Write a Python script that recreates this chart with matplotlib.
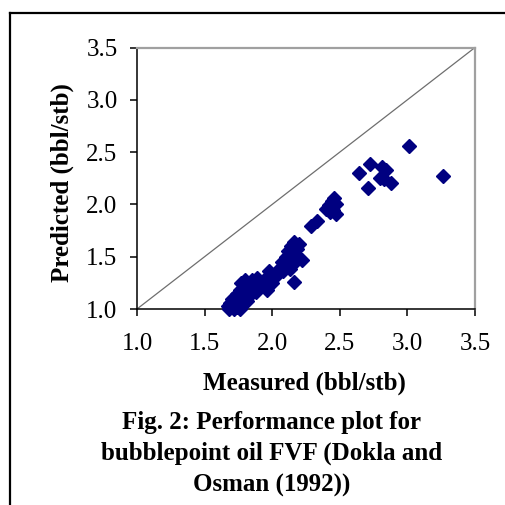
import matplotlib
matplotlib.use("Agg")
import matplotlib.pyplot as plt
from matplotlib.lines import Line2D

plt.rcParams['font.family'] = ['Liberation Serif', 'DejaVu Serif']

measured = [1.67, 1.68, 1.69, 1.70, 1.71, 1.72, 1.72, 1.73, 1.74, 1.75, 1.76, 1.77, 1.78, 1.79, 1.70,
            1.74, 1.76, 1.81,
            1.78, 1.80, 1.80, 1.82, 1.83, 1.84, 1.85, 1.86, 1.87, 1.88, 1.89, 1.90, 1.92, 1.94, 1.96, 1.98, 1.77,
            1.82, 1.85, 1.90,
            2.02, 2.00,
            2.05, 2.07, 2.08, 2.10, 2.11, 2.12, 2.13, 2.14, 2.14, 2.15, 2.16, 2.17, 2.18, 2.19, 2.20, 2.22, 2.16,
            2.09, 2.12, 2.16,
            2.29, 2.33,
            2.40, 2.42, 2.44, 2.45, 2.46, 2.47, 2.47, 2.43,
            2.64, 2.72, 2.71, 2.81, 2.84, 2.80, 2.83, 2.88, 3.01, 3.26]
predicted = [1.03, 1.00, 1.06, 1.02, 1.08, 1.00, 1.04, 1.10, 1.02, 1.06, 1.00, 1.09, 1.04, 1.12, 1.10,
             1.14, 1.18, 1.08,
             1.15, 1.22, 1.28, 1.18, 1.25, 1.14, 1.28, 1.20, 1.24, 1.16, 1.30, 1.26, 1.22, 1.28, 1.18, 1.36, 1.25,
             1.22, 1.25, 1.20,
             1.31, 1.25,
             1.38, 1.45, 1.36, 1.50, 1.42, 1.55, 1.38, 1.47, 1.60, 1.52, 1.64, 1.45, 1.57, 1.50, 1.62, 1.47, 1.26,
             1.40, 1.48, 1.56,
             1.79, 1.84,
             1.96, 1.99, 2.03, 1.95, 2.06, 1.91, 2.00, 1.93,
             2.30, 2.39, 2.16, 2.36, 2.33, 2.25, 2.24, 2.20, 2.56, 2.27]
ticks = [1.0, 1.5, 2.0, 2.5, 3.0, 3.5]
tick_labels = ["1.0", "1.5", "2.0", "2.5", "3.0", "3.5"]

W, H = 506, 505
fig = plt.figure(figsize=(W / 100, H / 100), dpi=100)
ax = fig.add_axes([137 / W, 1 - 309 / H, 338 / W, 261.5 / H])

ax.plot([1.0, 3.5], [1.0, 3.5], color='#6e6e6e', lw=0.9, zorder=1)
ax.plot(measured, predicted, linestyle='none', marker='D', ms=7.5,
        color='#000080', markeredgecolor='#000080', clip_on=False, zorder=3)

ax.set_xlim(1.0, 3.5)
ax.set_ylim(1.0, 3.5)
ax.set_xticks(ticks)
ax.set_xticklabels(tick_labels)
ax.set_yticks(ticks)
ax.set_yticklabels(tick_labels)
ax.tick_params(axis='both', direction='out', length=5, width=1.1, labelsize=18, colors='black')
ax.tick_params(axis='x', pad=12)
ax.tick_params(axis='y', pad=9)

for s in ['left', 'bottom']:
    ax.spines[s].set_color('black')
    ax.spines[s].set_linewidth(1.1)
for s in ['top', 'right']:
    ax.spines[s].set_color('#a0a0a0')
    ax.spines[s].set_linewidth(1.6)

ax.set_xlabel("Measured (bbl/stb)", fontsize=18, fontweight='bold', va='center')
ax.xaxis.set_label_coords(0.4956, -0.283)
ax.set_ylabel("Predicted (bbl/stb)", fontsize=18, fontweight='bold', va='center')
ax.yaxis.set_label_coords(-0.222, 0.484)

cap_x = 272 / W
fig.text(cap_x, 1 - 422 / H, "Fig. 2: Performance plot for", ha='center', va='center',
         fontsize=18, fontweight='bold')
fig.text(cap_x, 1 - 453 / H, "bubblepoint oil FVF (Dokla and", ha='center', va='center',
         fontsize=18, fontweight='bold')
fig.text(cap_x, 1 - 485 / H, "Osman (1992))", ha='center', va='center',
         fontsize=18, fontweight='bold')

# outer frame lines (top and left)
fig.add_artist(Line2D([10 / W, 1.0], [1 - 13 / H, 1 - 13 / H], color='black', lw=1.6,
                      transform=fig.transFigure))
fig.add_artist(Line2D([10 / W, 10 / W], [1 - 13 / H, 0.0], color='black', lw=1.6,
                      transform=fig.transFigure))

fig.savefig("out.png", dpi=100)
